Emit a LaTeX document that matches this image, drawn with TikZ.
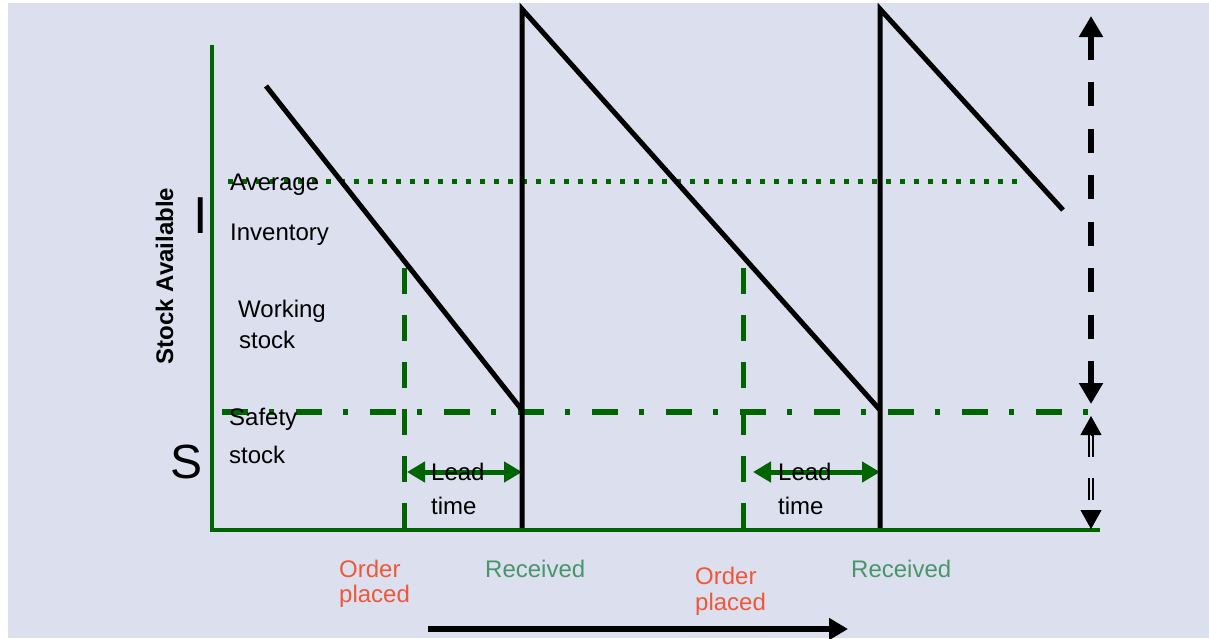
\documentclass[tikz,border=0pt]{standalone}
\usepackage{fontspec}
\setmainfont{Liberation Sans}
\usetikzlibrary{arrows.meta}
\definecolor{bg}{RGB}{220,223,238}
\definecolor{dgreen}{RGB}{0,100,0}
\definecolor{ordc}{RGB}{238,88,56}
\definecolor{recc}{RGB}{72,150,105}
\begin{document}
\begin{tikzpicture}[x=1pt,y=-1pt,
  axisline/.style={draw=dgreen,line width=4.5pt},
  saw/.style={draw=black,line width=5pt,line join=miter},
  avgline/.style={draw=dgreen,line width=5pt,dash pattern=on 5pt off 9pt},
  safeline/.style={draw=dgreen,line width=6pt,dash pattern=on 26pt off 21pt on 5pt off 22pt},
  ordline/.style={draw=dgreen,line width=5pt,dash pattern=on 26pt off 21pt},
  leadarrow/.style={draw=dgreen,line width=5pt,{Triangle[length=18pt,width=20pt]}-{Triangle[length=18pt,width=20pt]}},
  bigarrow/.style={draw=black,line width=6pt,dash pattern=on 24pt off 22.5pt,{Triangle[length=21pt,width=23pt]}-{Triangle[length=21pt,width=23pt]}},
  dbl/.style={draw=black,line width=2pt,double=bg,double distance=2pt,dash pattern=on 22pt off 21pt},
  tiponly/.style={draw=black,line width=1pt,-{Triangle[length=19pt,width=21pt]}},
  timearrow/.style={draw=black,line width=6pt,-{Triangle[length=19pt,width=21pt]}},
  lbl/.style={anchor=base west,inner sep=0pt,font=\fontsize{24}{28}\selectfont},
  ordlbl/.style={lbl,text=ordc},
  reclbl/.style={lbl,text=recc}
]
\useasboundingbox (0,0) rectangle (1209,638);
\fill[bg] (8,3) rectangle (1209,638);

% coordinates
\coordinate (O) at (212,530);
\coordinate (ytop) at (212,45);
\coordinate (xend) at (1100,530);
\coordinate (s0) at (266,86);
\coordinate (b1) at (522,410);
\coordinate (r1) at (522,530);
\coordinate (t1) at (522,9);
\coordinate (b2) at (880,410);
\coordinate (r2) at (880,530);
\coordinate (t2) at (880,9);
\coordinate (e3) at (1063,210);
\coordinate (avgL) at (228,181);
\coordinate (avgR) at (1020,181);
\coordinate (safL) at (222,412);
\coordinate (safR) at (1088,412);
\coordinate (op1t) at (404,268);
\coordinate (op1b) at (404,530);
\coordinate (op2t) at (743,268);
\coordinate (op2b) at (743,530);
\coordinate (lt1a) at (407,472);
\coordinate (lt1b) at (522,472);
\coordinate (lt2a) at (753,472);
\coordinate (lt2b) at (880,472);
\coordinate (wsT) at (1091,16);
\coordinate (wsB) at (1091,404);
\coordinate (ssT) at (1091,416);
\coordinate (ssTb) at (1091,435);
\coordinate (ssB) at (1091,529);
\coordinate (ssBb) at (1091,510);
\coordinate (tmA) at (428,629);
\coordinate (tmB) at (848,629);

% reference lines
\draw[avgline] (avgL) -- (avgR);
\draw[safeline] (safL) -- (safR);
\draw[ordline] (op1t) -- (op1b);
\draw[ordline] (op2t) -- (op2b);
\draw[leadarrow] (lt1a) -- (lt1b);
\draw[leadarrow] (lt2a) -- (lt2b);

% stock curve
\draw[saw] (s0) -- (b1);
\draw[saw] (r1) -- (t1) -- (b2);
\draw[saw] (r2) -- (t2) -- (e3);

% axes
\draw[axisline] (ytop) -- (O) -- (xend);

% right arrows
\draw[bigarrow] (wsT) -- (wsB);
\draw[dbl] (ssTb) -- (ssBb);
\draw[tiponly] (ssTb) -- (ssT);
\draw[tiponly] (ssBb) -- (ssB);

% time arrow
\draw[timearrow] (tmA) -- (tmB);

% labels
\node[lbl] (avg1) at (230,190) {Average};
\node[lbl] (avg2) at (230,240) {Inventory};
\node[lbl] (wk1) at (238,317) {Working};
\node[lbl] (wk2) at (239,348) {stock};
\node[lbl] (sf1) at (229,425) {Safety};
\node[lbl] (sf2) at (229,463) {stock};
\node[lbl] (ld1) at (431,480) {Lead};
\node[lbl] (tm1) at (431,514) {time};
\node[lbl] (ld2) at (778,480) {Lead};
\node[lbl] (tm2) at (778,514) {time};
\node[ordlbl] (or1) at (339,577) {Order};
\node[ordlbl] (pl1) at (339,602) {placed};
\node[ordlbl] (or2) at (695,584) {Order};
\node[ordlbl] (pl2) at (695,610) {placed};
\node[reclbl] (rc1) at (485,577) {Received};
\node[reclbl] (rc2) at (851,577) {Received};
\node[anchor=base,inner sep=0pt,rotate=90,font=\bfseries\fontsize{24}{28}\selectfont] (stk) at (173,276) {Stock Available};
\node[anchor=base west,inner sep=0pt,font=\fontsize{52}{60}\selectfont] (bigI) at (193,233) {I};
\node[anchor=base west,inner sep=0pt,font=\fontsize{48}{56}\selectfont] (bigS) at (170,478) {S};
\end{tikzpicture}
\end{document}
